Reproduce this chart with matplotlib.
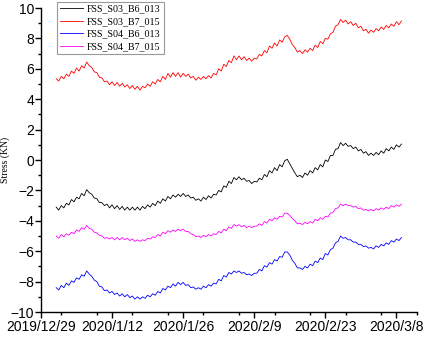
import numpy as np
import matplotlib
matplotlib.use("Agg")
import matplotlib.pyplot as plt
import matplotlib.dates as mdates
from matplotlib.ticker import MultipleLocator, FixedLocator
import datetime as dt

# ---- data ----
start_date = dt.datetime(2020, 1, 1)   # first sample
step_days = 0.5                        # sampling interval (days)

labels = ["FSS_S03_B6_013", "FSS_S03_B7_015", "FSS_S04_B6_013", "FSS_S04_B7_015"]
colors = ["black", "red", "blue", "magenta"]

s03_b6 = [-3.1, -3.3, -3.0, -3.15, -2.85, -2.95, -2.6, -2.75, -2.45, -2.55, -2.2, -2.35, -1.95, -2.15,
          -2.25, -2.5, -2.55, -2.8, -2.8, -3.0, -2.9, -3.15, -2.95, -3.2, -3.0, -3.25, -3.05, -3.3,
          -3.1, -3.3, -3.1, -3.3, -3.1, -3.3, -3.05, -3.2, -2.95, -3.1, -2.85, -3.0, -2.7, -2.85,
          -2.55, -2.7, -2.4, -2.55, -2.3, -2.45, -2.25, -2.4, -2.2, -2.4, -2.3, -2.5, -2.45, -2.65,
          -2.55, -2.7, -2.45, -2.6, -2.35, -2.5, -2.25, -2.3, -2.0, -2.1, -1.7, -1.8, -1.4, -1.55,
          -1.15, -1.3, -1.1, -1.3, -1.2, -1.4, -1.35, -1.55, -1.4, -1.45, -1.2, -1.3, -0.95, -1.1,
          -0.7, -0.85, -0.5, -0.7, -0.3, -0.45, -0.05, 0.05, -0.25, -0.55, -0.85, -1.1, -1.0, -1.15,
          -0.85, -1.0, -0.7, -0.85, -0.5, -0.65, -0.3, -0.45, 0.0, -0.1, 0.3, 0.3, 0.7, 0.75,
          1.15, 0.95, 1.1, 0.9, 0.95, 0.75, 0.85, 0.6, 0.7, 0.45, 0.55, 0.3, 0.45, 0.3,
          0.5, 0.35, 0.6, 0.45, 0.75, 0.6, 0.85, 0.7, 1.0, 0.85, 1.05]

s03_b7 = [5.35, 5.2, 5.5, 5.35, 5.65, 5.5, 5.85, 5.7, 6.05, 5.85, 6.2, 6.05, 6.45, 6.2,
          6.1, 5.8, 5.75, 5.45, 5.4, 5.15, 5.2, 4.95, 5.15, 4.9, 5.1, 4.85, 5.05, 4.8,
          4.95, 4.7, 4.9, 4.65, 4.85, 4.6, 4.85, 4.75, 5.0, 4.85, 5.15, 5.0, 5.3, 5.15,
          5.5, 5.3, 5.7, 5.45, 5.75, 5.5, 5.75, 5.45, 5.7, 5.5, 5.65, 5.4, 5.5, 5.25,
          5.45, 5.3, 5.5, 5.35, 5.55, 5.4, 5.7, 5.6, 6.0, 5.85, 6.3, 6.15, 6.55, 6.4,
          6.85, 6.6, 6.85, 6.6, 6.8, 6.55, 6.7, 6.5, 6.7, 6.65, 6.95, 6.85, 7.2, 7.05,
          7.5, 7.35, 7.7, 7.5, 7.9, 7.75, 8.1, 8.2, 7.95, 7.6, 7.4, 7.1, 7.2, 7.0,
          7.25, 7.1, 7.35, 7.2, 7.55, 7.4, 7.8, 7.65, 8.0, 7.95, 8.3, 8.4, 8.8, 8.9,
          9.25, 9.05, 9.2, 8.95, 9.1, 8.85, 9.0, 8.7, 8.8, 8.5, 8.6, 8.35, 8.55, 8.4,
          8.65, 8.5, 8.75, 8.6, 8.85, 8.7, 8.95, 8.8, 9.1, 8.9, 9.15]

s04_b6 = [-8.4, -8.55, -8.25, -8.4, -8.1, -8.25, -7.95, -8.05, -7.75, -7.85, -7.55, -7.65, -7.3, -7.5,
          -7.65, -7.9, -8.0, -8.3, -8.35, -8.6, -8.55, -8.75, -8.65, -8.85, -8.75, -8.95, -8.8, -9.0,
          -8.85, -9.05, -8.95, -9.15, -9.0, -9.15, -9.0, -9.1, -8.9, -9.0, -8.8, -8.9, -8.65, -8.75,
          -8.45, -8.55, -8.3, -8.4, -8.15, -8.3, -8.05, -8.2, -8.05, -8.25, -8.2, -8.4, -8.35, -8.5,
          -8.4, -8.5, -8.3, -8.4, -8.2, -8.3, -8.1, -8.15, -7.85, -7.95, -7.6, -7.7, -7.4, -7.5,
          -7.3, -7.4, -7.3, -7.45, -7.4, -7.55, -7.5, -7.6, -7.45, -7.45, -7.2, -7.3, -6.95, -7.05,
          -6.75, -6.85, -6.55, -6.65, -6.35, -6.4, -6.05, -6.05, -6.25, -6.6, -6.8, -7.1, -7.1, -7.2,
          -7.0, -7.1, -6.85, -6.95, -6.65, -6.75, -6.45, -6.55, -6.15, -6.25, -5.9, -5.8, -5.45, -5.35,
          -5.0, -5.15, -5.1, -5.25, -5.25, -5.4, -5.4, -5.55, -5.55, -5.7, -5.65, -5.8, -5.75, -5.85,
          -5.65, -5.75, -5.55, -5.65, -5.45, -5.55, -5.3, -5.4, -5.2, -5.3, -5.1]

s04_b7 = [-5.0, -5.15, -4.9, -5.05, -4.85, -4.95, -4.75, -4.85, -4.6, -4.7, -4.45, -4.55, -4.3, -4.5,
          -4.55, -4.75, -4.8, -4.95, -5.0, -5.15, -5.1, -5.2, -5.1, -5.25, -5.1, -5.25, -5.1, -5.25,
          -5.15, -5.3, -5.2, -5.35, -5.25, -5.35, -5.25, -5.3, -5.15, -5.2, -5.05, -5.1, -4.9, -5.0,
          -4.75, -4.85, -4.65, -4.75, -4.6, -4.7, -4.55, -4.65, -4.55, -4.7, -4.7, -4.85, -4.9, -5.05,
          -5.0, -5.1, -4.95, -5.05, -4.9, -5.0, -4.85, -4.9, -4.7, -4.8, -4.55, -4.65, -4.4, -4.5,
          -4.25, -4.35, -4.25, -4.4, -4.3, -4.45, -4.35, -4.45, -4.35, -4.35, -4.2, -4.3, -4.05, -4.15,
          -3.9, -4.0, -3.8, -3.9, -3.7, -3.75, -3.5, -3.5, -3.65, -3.85, -4.0, -4.2, -4.15, -4.25,
          -4.1, -4.2, -4.05, -4.15, -3.9, -4.0, -3.8, -3.9, -3.7, -3.75, -3.5, -3.45, -3.2, -3.15,
          -2.9, -3.0, -2.9, -3.0, -3.0, -3.1, -3.05, -3.2, -3.15, -3.3, -3.25, -3.35, -3.25, -3.35,
          -3.2, -3.3, -3.15, -3.25, -3.1, -3.2, -3.0, -3.1, -2.95, -3.05, -2.9]

series = [s03_b6, s03_b7, s04_b6, s04_b7]

x_start = dt.datetime(2019, 12, 29)
x_end = dt.datetime(2020, 3, 12, 2)
tick_dates = [dt.datetime(2019, 12, 29) + dt.timedelta(days=14 * i) for i in range(6)]

# ---- plot ----
fig = plt.figure(figsize=(4.26, 3.44), dpi=100)
ax = fig.add_axes([0.0962, 0.093, 0.883, 0.8837])

t0 = mdates.date2num(start_date)
for vals, lab, col in zip(series, labels, colors):
    t = t0 + step_days * np.arange(len(vals))
    ax.plot(t, vals, color=col, lw=0.6, label=lab)

ax.set_xlim(mdates.date2num(x_start), mdates.date2num(x_end))
ax.set_ylim(-10, 10)

ax.xaxis.set_major_locator(FixedLocator(mdates.date2num(tick_dates)))
ax.set_xticklabels([f"{d.year}/{d.month}/{d.day}" for d in tick_dates])
ax.xaxis.set_minor_locator(MultipleLocator(7))
ax.yaxis.set_major_locator(MultipleLocator(2))
ax.yaxis.set_minor_locator(MultipleLocator(1))

for s in ["top", "right"]:
    ax.spines[s].set_visible(False)
for s in ["left", "bottom"]:
    ax.spines[s].set_linewidth(1.0)

ax.tick_params(axis="both", which="major", direction="out", length=4, width=1,
               labelsize=10, pad=2)
ax.tick_params(axis="y", which="major", pad=1)
ax.tick_params(axis="both", which="minor", direction="out", length=2.5, width=1)
for lbl in ax.get_xticklabels() + ax.get_yticklabels():
    lbl.set_fontfamily("Liberation Sans")

ax.set_ylabel("Stress (KN)", fontfamily="Liberation Serif", fontsize=7)
ax.yaxis.set_label_coords(-0.082, 0.5)

leg = ax.legend(loc="upper left", bbox_to_anchor=(0.134, 0.995), bbox_transform=fig.transFigure,
                prop={"family": "Liberation Serif", "size": 7.2}, frameon=True, fancybox=False,
                edgecolor="gray", handlelength=2.3, handletextpad=0.4, labelspacing=0.35,
                borderpad=0.3, borderaxespad=0)
leg.get_frame().set_linewidth(0.8)

fig.savefig("out.png", dpi=100)
